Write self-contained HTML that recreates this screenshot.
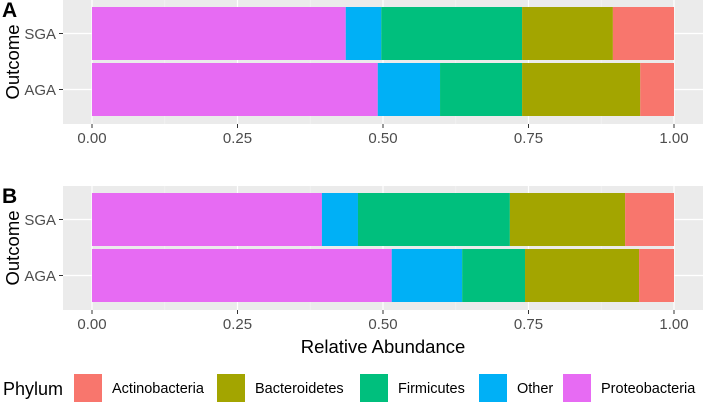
<!DOCTYPE html>
<html><head><meta charset="utf-8"><style>
body{margin:0;background:#fff;}
svg{display:block;font-family:"Liberation Sans",Arial,sans-serif;}
</style></head><body>
<svg id="c" width="703" height="402"></svg>
<script>
const phyla=["Proteobacteria","Other","Firmicutes","Bacteroidetes","Actinobacteria"];
const colors=["#E76BF3","#00B0F6","#00BF7D","#A3A500","#F8766D"];
const outcomes=["SGA","AGA"];
const panelA_SGA=[0.436,0.061,0.242,0.156,0.105];
const panelA_AGA=[0.491,0.107,0.141,0.203,0.058];
const panelB_SGA=[0.395,0.062,0.261,0.198,0.084];
const panelB_AGA=[0.515,0.121,0.108,0.196,0.060];
const ticks=[0,0.25,0.5,0.75,1];
const tickLabels=["0.00","0.25","0.50","0.75","1.00"];
const legendLabels=["Actinobacteria","Bacteroidetes","Firmicutes","Other","Proteobacteria"];
const legendColors=["#F8766D","#A3A500","#00BF7D","#00B0F6","#E76BF3"];

const svg=document.getElementById('c');
const NS="http://www.w3.org/2000/svg";
function el(t,a,p){const e=document.createElementNS(NS,t);for(const k in a)e.setAttribute(k,a[k]);(p||svg).appendChild(e);return e;}
const x=v=>92+v*582;
function panel(label,top,sga,aga){
  const g=el('g',{});
  
  
  el('rect',{x:63,y:top,width:640,height:124,fill:'#EBEBEB'},g);
  [0.125,0.375,0.625,0.875].forEach(v=>el('line',{x1:x(v),x2:x(v),y1:top,y2:top+124,stroke:'#F5F5F5','stroke-width':0.6},g));
  ticks.forEach(v=>el('line',{x1:x(v),x2:x(v),y1:top,y2:top+124,stroke:'#fff','stroke-width':1.2},g));
  const rows=[[sga,top+7],[aga,top+63]];
  rows.forEach(([vals,y0],i)=>{
    el('line',{x1:63,x2:703,y1:y0+26.5,y2:y0+26.5,stroke:'#fff','stroke-width':1.2},g);
    let acc=0;
    vals.forEach((v,j)=>{
      const r=el('rect',{x:x(acc),y:y0,width:v*582,height:53,fill:colors[j]},g);
      
      
      acc+=v;
    });
    el('line',{x1:59,x2:63,y1:y0+26.5,y2:y0+26.5,stroke:'#333','stroke-width':1},g);
    const t=el('text',{x:56,y:y0+32,'text-anchor':'end','font-size':15,fill:'#4D4D4D'},g);
    t.textContent=outcomes[i];
    
    
  });
  ticks.forEach((v,i)=>{
    el('line',{x1:x(v),x2:x(v),y1:top+124,y2:top+128,stroke:'#333','stroke-width':1},g);
    const t=el('text',{x:x(v),y:top+143,'text-anchor':'middle','font-size':15,fill:'#4D4D4D'},g);
    t.textContent=tickLabels[i];
    
    
  });
  const yt=el('text',{x:0,y:0,'text-anchor':'middle','font-size':18.5,fill:'#000',transform:`translate(19,${top+62}) rotate(-90)`},g);
  yt.textContent='Outcome';
  
  
  const pl=el('text',{x:2,y:top+17,'font-size':21,'font-weight':'bold',fill:'#000'},g);
  pl.textContent=label;
  
  
}
panel('A',0,panelA_SGA,panelA_AGA);
panel('B',186,panelB_SGA,panelB_AGA);
const xt=el('text',{x:383,y:353,'text-anchor':'middle','font-size':18.5,fill:'#000'});
xt.textContent='Relative Abundance';


const lt=el('text',{x:3,y:395,'font-size':18,fill:'#000'});
lt.textContent='Phylum';


const lx=[74,217,360,479,563];
legendLabels.forEach((n,i)=>{
  const g=el('g',{});
  
  
  el('rect',{x:lx[i],y:374,width:28,height:28,fill:legendColors[i]},g);
  const t=el('text',{x:lx[i]+38,y:393,'font-size':14.5,fill:'#000'},g);
  t.textContent=n;
});
</script>
</body></html>
